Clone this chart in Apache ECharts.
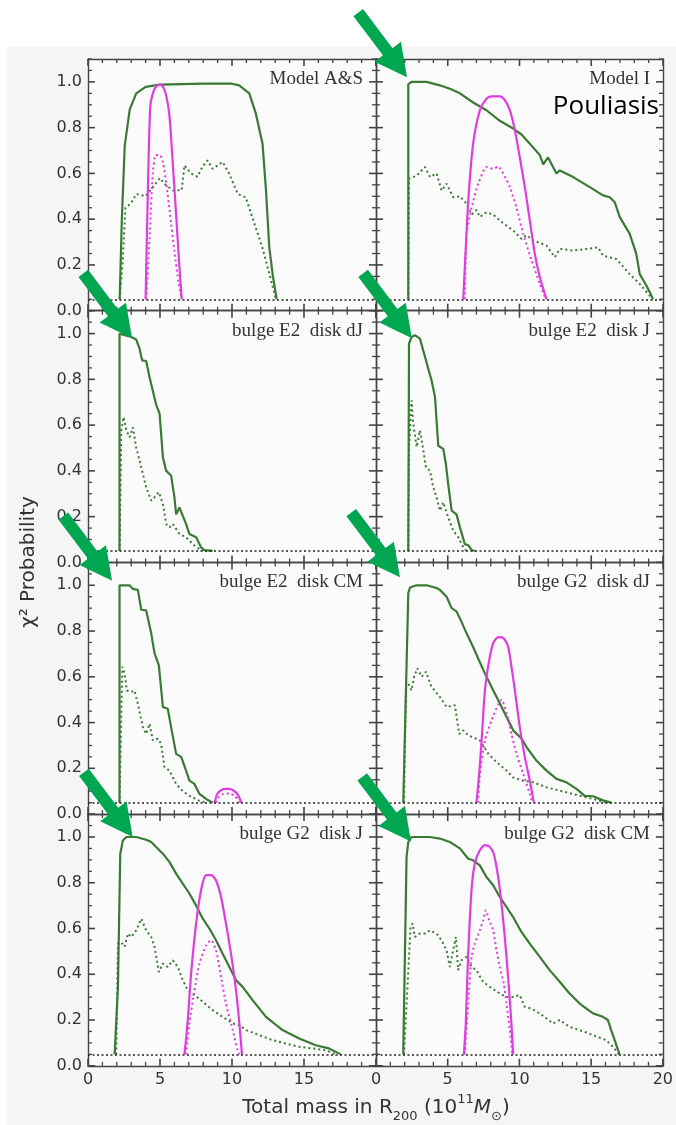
<!DOCTYPE html>
<html><head><meta charset="utf-8">
<script src="https://cdn.jsdelivr.net/npm/echarts@6/dist/echarts.min.js"></script>
<style>html,body{margin:0;padding:0;background:#fff}#c{width:676px;height:1125px}</style>
</head><body><div id="c"></div>
<script>
// ---------------- data ----------------
const panelNames = ['Model A&S', 'Model I', 'bulge E2  disk dJ', 'bulge E2  disk J',
  'bulge E2  disk CM', 'bulge G2  disk dJ', 'bulge G2  disk J', 'bulge G2  disk CM'];
const xTickValues = [0, 5, 10, 15, 20];
const yTickValues = [0, 0.2, 0.4, 0.6, 0.8, 1.0];
const threshold = 0.05;

const asGreenSolid = [[2.2,0.05],[2.35,0.4],[2.55,0.72],[2.9,0.88],[3.35,0.95],[4.0,0.978],[5.0,0.988],[6.5,0.99],[8.0,0.992],[10.0,0.992],[10.5,0.985],[11.2,0.95],[11.66,0.86],[12.12,0.73],[12.36,0.526],[12.59,0.277],[12.82,0.16],[13.1,0.05]];
const asGreenDotted = [[2.2,0.05],[2.42,0.23],[2.6,0.45],[3.0,0.47],[3.35,0.51],[4.0,0.5],[4.5,0.54],[5.0,0.58],[5.3,0.555],[5.9,0.526],[6.5,0.526],[6.7,0.635],[7.15,0.6],[7.6,0.585],[7.95,0.63],[8.3,0.657],[8.65,0.62],[9.35,0.65],[9.8,0.6],[10.4,0.51],[10.95,0.496],[11.4,0.41],[12.1,0.277],[12.6,0.16],[13.05,0.05]];
const asMagSolid = [[4.0,0.05],[4.16,0.53],[4.32,0.89],[4.5,0.95],[4.73,0.98],[4.97,0.988],[5.2,0.98],[5.43,0.94],[5.66,0.85],[5.89,0.64],[6.12,0.42],[6.35,0.19],[6.51,0.05]];
const asMagDotted = [[4.05,0.05],[4.3,0.35],[4.5,0.6],[4.7,0.68],[5.0,0.68],[5.2,0.65],[5.45,0.55],[5.7,0.42],[6.0,0.26],[6.3,0.12],[6.5,0.05]];

const m1GreenSolid = [[2.25,0.05],[2.25,0.99],[2.48,1.0],[3.53,1.0],[4.45,0.985],[5.15,0.97],[5.85,0.95],[6.77,0.91],[7.7,0.876],[8.63,0.83],[9.56,0.796],[10.14,0.77],[10.72,0.73],[11.42,0.68],[11.65,0.64],[11.99,0.67],[12.34,0.628],[12.58,0.6],[12.81,0.613],[13.74,0.584],[14.9,0.54],[15.82,0.504],[16.29,0.496],[16.64,0.474],[16.98,0.41],[17.68,0.336],[18.14,0.248],[18.38,0.16],[18.84,0.11],[19.19,0.066],[19.3,0.05]];
const m1GreenDotted = [[2.25,0.05],[2.3,0.577],[2.83,0.59],[3.41,0.628],[3.76,0.584],[4.22,0.6],[4.57,0.525],[4.92,0.555],[5.38,0.496],[5.85,0.5],[6.31,0.467],[6.66,0.42],[7.0,0.44],[7.24,0.41],[7.7,0.43],[8.17,0.42],[8.63,0.394],[9.56,0.35],[10.14,0.314],[10.49,0.33],[10.95,0.307],[11.88,0.285],[12.46,0.234],[12.81,0.27],[13.74,0.263],[14.66,0.27],[15.48,0.277],[15.82,0.24],[16.75,0.226],[17.68,0.16],[18.38,0.117],[19.07,0.066],[19.2,0.05]];
const m1MagSolid = [[6.08,0.05],[6.19,0.19],[6.43,0.48],[6.77,0.73],[7.24,0.876],[7.7,0.927],[8.05,0.937],[8.63,0.937],[8.98,0.92],[9.33,0.876],[9.68,0.788],[10.02,0.67],[10.37,0.54],[10.72,0.394],[11.07,0.248],[11.42,0.146],[11.88,0.05]];
const m1MagDotted = [[6.19,0.05],[6.31,0.336],[6.66,0.45],[7.12,0.555],[7.7,0.628],[8.17,0.62],[8.52,0.63],[8.86,0.6],[9.33,0.54],[9.79,0.45],[10.26,0.336],[10.84,0.22],[11.42,0.117],[11.83,0.05]];

const e2djGreenSolid = [[2.19,0.05],[2.19,1.0],[3.0,0.985],[3.35,0.974],[3.58,0.934],[3.76,0.883],[4.04,0.88],[4.27,0.81],[4.5,0.75],[4.73,0.69],[4.97,0.65],[5.2,0.46],[5.43,0.4],[5.77,0.38],[6.0,0.285],[6.12,0.21],[6.35,0.24],[6.54,0.21],[6.81,0.168],[7.04,0.124],[7.51,0.11],[7.85,0.066],[8.08,0.054],[8.66,0.05]];
const e2djGreenDotted = [[2.19,0.05],[2.31,0.577],[2.47,0.635],[2.66,0.577],[2.89,0.547],[3.12,0.59],[3.35,0.5],[3.58,0.445],[4.04,0.328],[4.39,0.27],[4.62,0.285],[4.92,0.307],[5.2,0.255],[5.43,0.168],[5.66,0.153],[5.89,0.168],[6.35,0.124],[6.81,0.11],[7.27,0.08],[7.74,0.058],[7.97,0.05]];

const e2jGreenSolid = [[2.25,0.05],[2.3,0.956],[2.48,0.985],[2.71,0.993],[3.06,0.978],[3.41,0.9],[3.64,0.847],[3.87,0.796],[4.11,0.723],[4.22,0.62],[4.34,0.51],[4.69,0.496],[4.87,0.43],[5.03,0.343],[5.27,0.226],[5.61,0.21],[5.85,0.153],[6.19,0.08],[6.43,0.075],[6.66,0.054],[6.89,0.05]];
const e2jGreenDotted = [[2.25,0.05],[2.3,0.5],[2.48,0.708],[2.6,0.606],[2.83,0.504],[3.06,0.577],[3.2,0.53],[3.48,0.416],[3.76,0.4],[3.99,0.328],[4.22,0.285],[4.45,0.226],[4.69,0.263],[5.03,0.197],[5.38,0.139],[5.73,0.11],[6.08,0.066],[6.31,0.05]];

const e2cmGreenSolid = [[2.19,0.05],[2.19,1.0],[2.89,1.0],[3.12,0.984],[3.46,0.98],[3.7,0.893],[4.04,0.89],[4.39,0.79],[4.62,0.703],[4.92,0.65],[5.2,0.468],[5.54,0.46],[5.77,0.38],[6.12,0.263],[6.47,0.25],[6.81,0.19],[7.04,0.146],[7.39,0.132],[7.74,0.088],[8.2,0.066],[8.66,0.05]];
const e2cmGreenDotted = [[2.19,0.05],[2.38,0.644],[2.54,0.615],[2.7,0.54],[3.0,0.534],[3.23,0.54],[3.46,0.483],[3.81,0.38],[4.04,0.35],[4.27,0.395],[4.5,0.322],[4.85,0.33],[5.08,0.307],[5.31,0.205],[5.66,0.19],[6.12,0.132],[6.58,0.1],[7.04,0.08],[7.74,0.058],[8.2,0.05]];
const e2cmMagSolid = [[8.8,0.05],[8.95,0.085],[9.2,0.103],[9.5,0.11],[9.8,0.11],[10.1,0.103],[10.4,0.085],[10.65,0.05]];
const e2cmMagDotted = [[8.9,0.05],[9.1,0.075],[9.4,0.088],[9.8,0.09],[10.2,0.08],[10.5,0.05]];

const g2djGreenSolid = [[1.9,0.05],[2.25,0.966],[2.37,0.99],[2.83,1.0],[3.53,1.0],[4.22,0.988],[4.45,0.98],[4.92,0.95],[5.27,0.9],[5.61,0.886],[5.96,0.84],[6.31,0.79],[6.77,0.73],[7.12,0.68],[7.59,0.615],[8.05,0.556],[8.52,0.498],[8.98,0.44],[9.56,0.366],[10.14,0.33],[10.49,0.293],[11.18,0.234],[11.88,0.19],[12.58,0.154],[13.27,0.139],[13.97,0.11],[14.55,0.08],[15.13,0.078],[15.82,0.06],[16.4,0.05]];
const g2djGreenDotted = [[1.95,0.05],[2.09,0.556],[2.25,0.57],[2.48,0.54],[2.65,0.6],[2.88,0.637],[3.18,0.6],[3.48,0.622],[3.87,0.556],[4.45,0.512],[4.92,0.468],[5.5,0.476],[5.8,0.35],[6.08,0.366],[6.43,0.344],[7.24,0.322],[7.82,0.264],[8.4,0.227],[9.1,0.19],[9.56,0.16],[10.26,0.146],[10.95,0.139],[11.88,0.117],[13.27,0.095],[14.2,0.08],[15.13,0.066],[16.06,0.05]];
const g2djMagSolid = [[7.0,0.05],[7.19,0.176],[7.36,0.322],[7.59,0.54],[7.89,0.673],[8.17,0.747],[8.52,0.773],[8.86,0.77],[9.21,0.73],[9.44,0.644],[9.68,0.54],[10.02,0.38],[10.37,0.25],[10.72,0.146],[11.0,0.05]];
const g2djMagDotted = [[7.12,0.05],[7.24,0.176],[7.59,0.322],[8.05,0.41],[8.52,0.48],[8.75,0.5],[9.1,0.44],[9.44,0.35],[9.79,0.264],[10.26,0.176],[10.72,0.088],[10.9,0.05]];

const g2jGreenSolid = [[1.85,0.05],[2.08,0.345],[2.24,0.927],[2.42,0.985],[2.66,1.0],[3.35,1.0],[4.04,0.988],[4.39,0.978],[4.73,0.956],[5.2,0.927],[5.66,0.89],[6.12,0.84],[6.58,0.796],[7.04,0.753],[7.51,0.7],[7.97,0.643],[8.43,0.6],[8.89,0.549],[9.35,0.49],[9.82,0.432],[10.28,0.374],[10.74,0.345],[11.43,0.287],[12.36,0.214],[13.51,0.156],[14.67,0.119],[15.82,0.09],[16.74,0.076],[17.55,0.05]];
const g2jGreenDotted = [[1.96,0.05],[2.08,0.534],[2.31,0.54],[2.54,0.52],[2.77,0.578],[3.0,0.563],[3.35,0.592],[3.7,0.643],[4.04,0.592],[4.39,0.563],[4.62,0.52],[4.92,0.41],[5.2,0.447],[5.54,0.432],[5.89,0.461],[6.24,0.432],[6.58,0.374],[6.93,0.33],[7.39,0.309],[7.97,0.28],[8.66,0.243],[9.35,0.214],[10.05,0.185],[10.51,0.178],[10.97,0.156],[11.89,0.134],[12.82,0.112],[13.74,0.097],[14.67,0.083],[15.59,0.076],[16.51,0.068],[17.21,0.05]];
const g2jMagSolid = [[6.7,0.05],[6.93,0.2],[7.16,0.403],[7.51,0.622],[7.85,0.767],[8.2,0.833],[8.55,0.833],[8.89,0.81],[9.24,0.738],[9.58,0.622],[9.93,0.49],[10.28,0.33],[10.51,0.185],[10.69,0.05]];
const g2jMagDotted = [[6.81,0.05],[7.04,0.185],[7.39,0.33],[7.74,0.447],[8.2,0.527],[8.55,0.549],[8.89,0.505],[9.24,0.389],[9.58,0.272],[10.05,0.156],[10.39,0.068],[10.51,0.05]];

const g2cmGreenSolid = [[1.9,0.05],[2.13,0.913],[2.25,0.978],[2.48,1.0],[3.06,1.0],[3.76,1.0],[4.45,0.993],[5.15,0.978],[5.85,0.95],[6.43,0.905],[6.77,0.898],[7.24,0.876],[7.7,0.825],[8.17,0.789],[8.63,0.738],[9.1,0.694],[9.56,0.65],[10.14,0.585],[10.72,0.534],[11.42,0.476],[12.11,0.418],[12.81,0.367],[13.5,0.316],[14.2,0.272],[15.13,0.229],[15.82,0.214],[16.17,0.2],[16.4,0.156],[16.64,0.112],[16.98,0.05]];
const g2cmGreenDotted = [[1.95,0.05],[2.41,0.607],[2.55,0.622],[2.71,0.563],[3.06,0.578],[3.41,0.578],[3.76,0.592],[4.22,0.578],[4.57,0.549],[4.92,0.505],[5.15,0.432],[5.38,0.505],[5.57,0.563],[5.73,0.418],[5.96,0.461],[6.31,0.476],[6.66,0.432],[7.0,0.418],[7.47,0.367],[7.94,0.345],[8.63,0.316],[9.1,0.301],[9.56,0.301],[10.02,0.309],[10.37,0.258],[10.84,0.25],[11.42,0.229],[12.34,0.185],[12.81,0.2],[13.5,0.17],[14.2,0.156],[15.13,0.134],[16.06,0.112],[16.52,0.083],[16.94,0.05]];
const g2cmMagSolid = [[6.13,0.05],[6.26,0.185],[6.42,0.476],[6.66,0.767],[6.89,0.884],[7.24,0.942],[7.59,0.964],[7.94,0.956],[8.21,0.927],[8.52,0.825],[8.75,0.709],[8.98,0.563],[9.21,0.389],[9.38,0.243],[9.51,0.112],[9.56,0.05]];
const g2cmMagDotted = [[6.19,0.05],[6.43,0.272],[6.66,0.476],[6.89,0.534],[7.24,0.592],[7.47,0.636],[7.66,0.68],[7.89,0.636],[8.17,0.592],[8.4,0.505],[8.63,0.432],[8.91,0.36],[9.1,0.272],[9.33,0.156],[9.51,0.05]];

// arrow tips: [panel index, x, y] in data coordinates
const arrowTips = [[1,2.16,1.02],[2,3.06,0.98],[3,2.5,0.98],[4,1.67,1.02],[5,1.67,1.035],[6,3.1,1.0],[7,2.44,0.98]];

// ---------------- assembly ----------------
const panels = [
  [asGreenSolid, asGreenDotted, asMagSolid, asMagDotted],
  [m1GreenSolid, m1GreenDotted, m1MagSolid, m1MagDotted],
  [e2djGreenSolid, e2djGreenDotted, null, null],
  [e2jGreenSolid, e2jGreenDotted, null, null],
  [e2cmGreenSolid, e2cmGreenDotted, e2cmMagSolid, e2cmMagDotted],
  [g2djGreenSolid, g2djGreenDotted, g2djMagSolid, g2djMagDotted],
  [g2jGreenSolid, g2jGreenDotted, g2jMagSolid, g2jMagDotted],
  [g2cmGreenSolid, g2cmGreenDotted, g2cmMagSolid, g2cmMagDotted]
];

const GREEN = '#3a7b33', MAGENTA = '#e33be3', AXIS = '#444', TXT = '#333';
const colLeft = [88, 376], colWidth = [288, 287];
const rowTop0 = 59, rowH = 251.7;
const X_MIN = 0, X_MAX = 20, Y_MIN = 0, Y_MAX = 1.1;

const grids = [], xAxes = [], yAxes = [], series = [], graphics = [];
// page background
graphics.push({type: 'rect', z: -20, silent: true, shape: {x: 7, y: 47, width: 669, height: 1078}, style: {fill: '#f5f5f5'}});
for (let i = 0; i < 8; i++) {
  const row = Math.floor(i / 2), col = i % 2;
  const g = {left: colLeft[col], top: rowTop0 + row * rowH, width: colWidth[col], height: rowH};
  grids.push(Object.assign({show: false}, g));
  graphics.push({type: 'rect', z: -15, silent: true, shape: {x: g.left, y: g.top, width: g.width, height: g.height}, style: {fill: '#fbfbfb'}});
  ['bottom', 'top'].forEach(pos => {
    xAxes.push({
      type: 'value', gridIndex: i, position: pos, min: X_MIN, max: X_MAX, interval: 5,
      axisLine: {show: true, onZero: false, lineStyle: {color: AXIS, width: 1.4}},
      axisTick: {show: false}, minorTick: {show: false}, splitLine: {show: false},
      axisLabel: {show: pos === 'bottom' && row === 3, fontFamily: 'DejaVu Sans', fontSize: 16, color: TXT, margin: 6,
        formatter: v => (col === 0 && v === 20) ? '' : String(v)}
    });
  });
  ['left', 'right'].forEach(pos => {
    yAxes.push({
      type: 'value', gridIndex: i, position: pos, min: Y_MIN, max: Y_MAX, interval: 0.2,
      axisLine: {show: true, onZero: false, lineStyle: {color: AXIS, width: 1.4}},
      axisTick: {show: false}, minorTick: {show: false}, splitLine: {show: false},
      axisLabel: {show: pos === 'left' && col === 0, fontFamily: 'DejaVu Sans', fontSize: 16, color: TXT, margin: 6,
        formatter: v => (yTickValues.some(t => Math.abs(t - v) < 1e-6) ? v.toFixed(1) : '')}
    });
  });
  const [gs, gd, ms, md] = panels[i];
  const base = {type: 'line', xAxisIndex: 2 * i, yAxisIndex: 2 * i, showSymbol: false, symbol: 'none', silent: true, animation: false};
  series.push(Object.assign({}, base, {data: gs, lineStyle: {color: GREEN, width: 2.2}, z: 3,
    markLine: {silent: true, symbol: 'none', label: {show: false}, animation: false,
      lineStyle: {color: '#222', width: 1.6, type: [2, 2.5]}, data: [{yAxis: threshold}]}}));
  series.push(Object.assign({}, base, {data: gd, lineStyle: {color: GREEN, width: 2, type: [2, 3]}, z: 2}));
  if (ms) series.push(Object.assign({}, base, {data: ms, smooth: 0.25, lineStyle: {color: MAGENTA, width: 2.2}, z: 4}));
  if (md) series.push(Object.assign({}, base, {data: md, smooth: 0.2, lineStyle: {color: MAGENTA, width: 2, type: [2, 3]}, z: 4}));

  graphics.push({type: 'text', z: 50, x: g.left + g.width - 13, y: g.top + 20,
    style: {text: panelNames[i], fontFamily: 'Liberation Serif', fontSize: 19, fill: TXT, align: 'right', verticalAlign: 'middle'}});
  if (i === 1) {
    graphics.push({type: 'text', z: 50, x: g.left + g.width - 4, y: g.top + 48,
      style: {text: 'Pouliasis', fontFamily: 'Open Sans', fontSize: 26, fill: '#000', align: 'right', verticalAlign: 'middle'}});
  }
}

// axis titles
graphics.push({type: 'text', z: 50, x: 29, y: 562, rotation: Math.PI / 2,
  style: {text: 'χ² Probability', fontFamily: 'DejaVu Sans', fontSize: 20, fill: TXT, align: 'center', verticalAlign: 'middle'}});
graphics.push({type: 'text', z: 50, x: 376, y: 1108,
  style: {text: 'Total mass in R{sub|200} (10{sup|11}{it|M}{sub|⊙})', fontFamily: 'DejaVu Sans', fontSize: 20, fill: TXT,
    align: 'center', verticalAlign: 'middle', lineHeight: 30,
    rich: {
      sub: {fontFamily: 'DejaVu Sans', fontSize: 13, fill: TXT, verticalAlign: 'bottom', lineHeight: 13},
      sup: {fontFamily: 'DejaVu Sans', fontSize: 13, fill: TXT, verticalAlign: 'top', lineHeight: 13},
      it: {fontFamily: 'DejaVu Sans', fontStyle: 'italic', fontSize: 20, fill: TXT, lineHeight: 30}
    }}});

const chart = echarts.init(document.getElementById('c'), null, {renderer: 'canvas'});
chart.setOption({backgroundColor: '#ffffff', animation: false, grid: grids, xAxis: xAxes, yAxis: yAxes, series: series, graphic: graphics});

// inward ticks on all four sides, placed through the axes' own scales
const tickEls = [];
const tickLine = (x1, y1, x2, y2, w) => ({type: 'line', z: 30, silent: true,
  shape: {x1: x1, y1: y1, x2: x2, y2: y2}, style: {stroke: AXIS, lineWidth: w}});
for (let i = 0; i < 8; i++) {
  for (let k = 0; k <= 20; k++) {
    const x = X_MIN + k;
    const major = k % 5 === 0, len = major ? 7 : 4, w = major ? 1.6 : 1.3;
    const pb = chart.convertToPixel({gridIndex: i}, [x, Y_MIN]);
    const pt = chart.convertToPixel({gridIndex: i}, [x, Y_MAX]);
    tickEls.push(tickLine(pb[0], pb[1], pb[0], pb[1] - len, w));
    tickEls.push(tickLine(pt[0], pt[1], pt[0], pt[1] + len, w));
  }
  for (let k = 0; k <= 22; k++) {
    const y = Y_MIN + k * 0.05;
    const major = k % 4 === 0, len = major ? 7 : 4, w = major ? 1.6 : 1.3;
    const pl = chart.convertToPixel({gridIndex: i}, [X_MIN, y]);
    const pr = chart.convertToPixel({gridIndex: i}, [X_MAX, y]);
    tickEls.push(tickLine(pl[0], pl[1], pl[0] + len, pl[1], w));
    tickEls.push(tickLine(pr[0], pr[1], pr[0] - len, pr[1], w));
  }
}

// arrows anchored to data coordinates
const dir = [49, 65], L = Math.hypot(dir[0], dir[1]);
const d = [dir[0] / L, dir[1] / L], n = [-d[1], d[0]];
const arrowEls = arrowTips.map(([gi, x, y]) => {
  const T = chart.convertToPixel({gridIndex: gi}, [x, y]);
  const B = [T[0] - 32 * d[0], T[1] - 32 * d[1]];
  const S = [T[0] - 81 * d[0], T[1] - 81 * d[1]];
  const p = (P, k) => [P[0] + k * n[0], P[1] + k * n[1]];
  return {type: 'polygon', z: 100, silent: true,
    shape: {points: [p(S, 6), p(B, 6), p(B, 16.5), T, p(B, -16.5), p(B, -6), p(S, -6)]},
    style: {fill: '#00a650'}};
});
chart.setOption({graphic: graphics.concat(tickEls, arrowEls)});
</script></body></html>
